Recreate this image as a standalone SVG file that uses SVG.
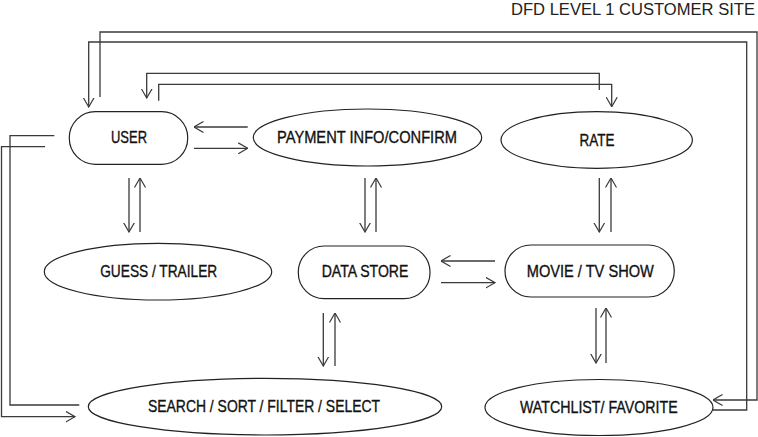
<svg xmlns="http://www.w3.org/2000/svg" width="758" height="437" viewBox="0 0 758 437">
<style>
.shape{fill:#fff;stroke:#222;stroke-width:1.2}
.lbl{font-family:"Liberation Sans",Arial,sans-serif;font-size:17px;fill:#111;stroke:#111;stroke-width:0.35;text-anchor:middle}
.title{font-family:"Liberation Sans",Arial,sans-serif;font-size:16.3px;fill:#222}
.c{fill:none;stroke:#3a3a3a;stroke-width:1.3}
.a{marker-end:url(#arr)}
</style>
<defs>
<marker id="arr" viewBox="0 0 10 12" refX="9.5" refY="6" markerWidth="10" markerHeight="12" markerUnits="userSpaceOnUse" orient="auto">
<path d="M0,0.5 L9.5,6 L0,11.5" fill="none" stroke="#3a3a3a" stroke-width="1.2"/>
</marker>
</defs>
<rect width="758" height="437" fill="#fff"/>
<text class="title" x="511" y="15" textLength="244" lengthAdjust="spacingAndGlyphs">DFD LEVEL 1 CUSTOMER SITE</text>
<g id="connectors">
<path class="c a" d="M100,97 V32 H757 V400 H713"/>
<path class="c a" d="M713,410 H746.7 V42 H88.7 V107"/>
<path class="c a" d="M599.3,90 V73.3 H146.7 V98"/>
<path class="c a" d="M158.7,100.7 V84.3 H611.7 V106.7"/>
<path class="c a" d="M247.7,127 H194"/>
<path class="c a" d="M194,148.3 H247.7"/>
<path class="c a" d="M129,178 V232"/>
<path class="c a" d="M140,232 V178"/>
<path class="c a" d="M365,178 V232"/>
<path class="c a" d="M376,232 V178"/>
<path class="c a" d="M599.3,178 V232"/>
<path class="c a" d="M611,232 V178"/>
<path class="c a" d="M495,261 H441"/>
<path class="c a" d="M441,282.7 H495"/>
<path class="c a" d="M323.3,313 V366"/>
<path class="c a" d="M335,366 V313"/>
<path class="c a" d="M596,308 V363"/>
<path class="c a" d="M606,363 V308"/>
<path class="c" d="M54.3,135.7 H10 V405 H79.3"/>
<path class="c a" d="M45,146.7 H1.5 V416.7 H75"/>
</g>
<g id="user">
<rect class="shape" x="69.3" y="111.7" width="118.4" height="52.6" rx="26"/>
<text class="lbl" x="129" y="143.3" textLength="36" lengthAdjust="spacingAndGlyphs">USER</text>
</g>
<g id="payment">
<ellipse class="shape" cx="367.5" cy="137.5" rx="114.2" ry="28.5"/>
<text class="lbl" x="367" y="143" textLength="180" lengthAdjust="spacingAndGlyphs">PAYMENT INFO/CONFIRM</text>
</g>
<g id="rate">
<ellipse class="shape" cx="596.7" cy="140" rx="95.7" ry="28.3"/>
<text class="lbl" x="597" y="145.7" textLength="35" lengthAdjust="spacingAndGlyphs">RATE</text>
</g>
<g id="guess">
<ellipse class="shape" cx="158" cy="271.7" rx="113.7" ry="28.3"/>
<text class="lbl" x="158.7" y="276.7" textLength="117" lengthAdjust="spacingAndGlyphs">GUESS / TRAILER</text>
</g>
<g id="datastore">
<rect class="shape" x="298.3" y="246" width="131.7" height="52.7" rx="26"/>
<text class="lbl" x="365" y="276.7" textLength="86.7" lengthAdjust="spacingAndGlyphs">DATA STORE</text>
</g>
<g id="movie">
<rect class="shape" x="505" y="245" width="169.3" height="52" rx="26"/>
<text class="lbl" x="590.3" y="276.7" textLength="127" lengthAdjust="spacingAndGlyphs">MOVIE / TV SHOW</text>
</g>
<g id="search">
<ellipse class="shape" cx="265" cy="406.7" rx="176.7" ry="28.3"/>
<text class="lbl" x="264" y="412.3" textLength="232" lengthAdjust="spacingAndGlyphs">SEARCH / SORT / FILTER / SELECT</text>
</g>
<g id="watchlist">
<ellipse class="shape" cx="599" cy="407.5" rx="114" ry="28"/>
<text class="lbl" x="598.8" y="413" textLength="157.7" lengthAdjust="spacingAndGlyphs">WATCHLIST/ FAVORITE</text>
</g>
</svg>
